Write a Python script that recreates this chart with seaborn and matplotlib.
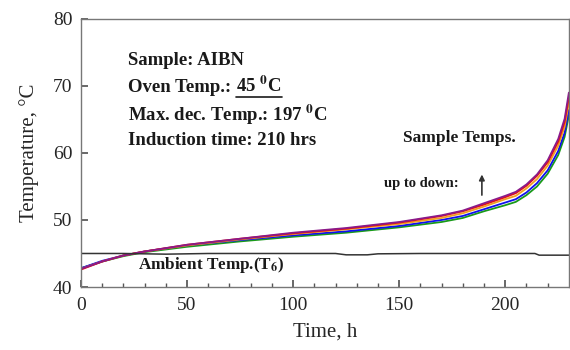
import matplotlib
matplotlib.use('Agg')
import matplotlib.pyplot as plt
from matplotlib.lines import Line2D
import seaborn as sns
import pandas as pd

# data
time_h = [0, 10, 20, 30, 50, 75, 100, 125, 150, 170, 180, 190, 200, 205, 210, 215, 220, 225, 228, 230]
temp_purple = [42.7, 43.8, 44.7, 45.3, 46.3, 47.2, 48.1, 48.8, 49.7, 50.7, 51.4, 52.5, 53.6, 54.2, 55.3, 56.8, 58.9, 62.1, 65.1, 69.0]
temp_red = [42.6, 43.8, 44.7, 45.3, 46.3, 47.2, 48.0, 48.7, 49.6, 50.6, 51.3, 52.3, 53.4, 54.0, 55.1, 56.6, 58.6, 61.7, 64.6, 68.3]
temp_orange = [42.7, 43.8, 44.7, 45.3, 46.2, 47.1, 47.9, 48.6, 49.4, 50.3, 51.0, 52.0, 53.1, 53.6, 54.7, 56.1, 58.1, 61.1, 63.9, 67.5]
temp_blue = [42.8, 43.9, 44.7, 45.3, 46.2, 47.0, 47.7, 48.3, 49.1, 50.0, 50.6, 51.6, 52.6, 53.1, 54.1, 55.5, 57.4, 60.3, 63.0, 66.4]
temp_green = [42.8, 43.8, 44.6, 45.2, 46.0, 46.8, 47.5, 48.1, 48.9, 49.7, 50.3, 51.3, 52.2, 52.7, 53.7, 55.0, 56.9, 59.7, 62.4, 65.6]

ambient_time = [0, 20, 40, 60, 80, 100, 120, 125, 135, 140, 160, 180, 200, 214, 216, 230]
ambient_temp = [45.0, 45.0, 44.9, 45.0, 45.0, 45.0, 45.0, 44.8, 44.8, 44.95, 45.0, 45.0, 45.0, 45.0, 44.75, 44.75]

series_names = ['green', 'blue', 'orange', 'red', 'purple']
series_values = [temp_green, temp_blue, temp_orange, temp_red, temp_purple]
series_colors = ['#1a9a1a', '#1010ee', '#f0a020', '#e81010', '#8a1a8a']

sns.set_theme(style='ticks')
plt.rcParams['font.family'] = ['Liberation Serif', 'DejaVu Serif']
plt.rcParams['mathtext.fontset'] = 'stix'
plt.rcParams['xtick.direction'] = 'in'
plt.rcParams['ytick.direction'] = 'in'

df = pd.concat([pd.DataFrame({'time': time_h, 'temp': v, 'sensor': n})
                for n, v in zip(series_names, series_values)])

fig = plt.figure(figsize=(5.7, 3.5), dpi=100)
ax = fig.add_axes([0.142, 0.18, 0.856, 0.766])

sns.lineplot(data=df, x='time', y='temp', hue='sensor', hue_order=series_names,
             palette=dict(zip(series_names, series_colors)), linewidth=1.3,
             legend=False, ax=ax, sort=False)
sns.lineplot(x=ambient_time, y=ambient_temp, color='#333333', linewidth=1.1, ax=ax)

ax.set_xlim(0, 230)
ax.set_ylim(40, 80)
ax.set_xticks([0, 50, 100, 150, 200])
ax.set_xticks(range(10, 230, 10), minor=True)
ax.set_yticks([40, 50, 60, 70, 80])
ax.tick_params(axis='both', which='major', labelsize=14, length=5, color='#555555')
ax.tick_params(axis='x', which='major', pad=7)
ax.tick_params(axis='y', which='major', pad=6)
ax.tick_params(axis='x', which='minor', length=3, color='#555555')
for s in ax.spines.values():
    s.set_color('#777777')
    s.set_linewidth(1.0)

ax.set_xlabel('Time, h', fontsize=15, labelpad=6)
ax.set_ylabel('Temperature, °C', fontsize=15, labelpad=10)

bold = dict(fontsize=13.5, fontweight='bold', color='#1a1a1a')
ax.text(22, 73.8, 'Sample: AIBN', va='center', **bold)
t_oven = ax.text(22, 69.7, 'Oven Temp.:', va='center', **bold)
t_45 = ax.annotate(r'45 $^{\mathbf{0}}$C', xy=(1, 0), xycoords=t_oven,
                   xytext=(4, 0), textcoords='offset points', va='bottom', **bold)
ax.text(22, 65.7, r'Max. dec. Temp.: 197 $^{\mathbf{0}}$C', va='center', **bold)
ax.text(22, 61.8, 'Induction time: 210 hrs', va='center', **bold)

ax.text(178.5, 62.2, 'Sample Temps.', ha='center', va='center',
        fontsize=12.5, fontweight='bold', color='#1a1a1a')
ax.text(143, 55.5, 'up to down:', ha='left', va='center',
        fontsize=10.5, fontweight='bold', color='#1a1a1a')
ax.annotate('', xy=(189, 57.2), xytext=(189, 53.3),
            arrowprops=dict(arrowstyle='-|>', color='#333333', lw=1.2,
                            mutation_scale=8))
ax.text(27, 43.3, r'Ambient Temp.(T$_{\mathbf{6}}$)', ha='left', va='center',
        fontsize=12.3, fontweight='bold', color='#1a1a1a')

# underline "45 0C"
fig.canvas.draw()
bb = t_45.get_window_extent()
inv = fig.transFigure.inverted()
(x0, y0), (x1, _) = inv.transform([(bb.x0, bb.y0 - 1), (bb.x1, bb.y0 - 1)])
fig.add_artist(Line2D([x0, x1], [y0, y0], transform=fig.transFigure,
                      color='#1a1a1a', linewidth=1.2))

fig.savefig('out.png', dpi=100)
